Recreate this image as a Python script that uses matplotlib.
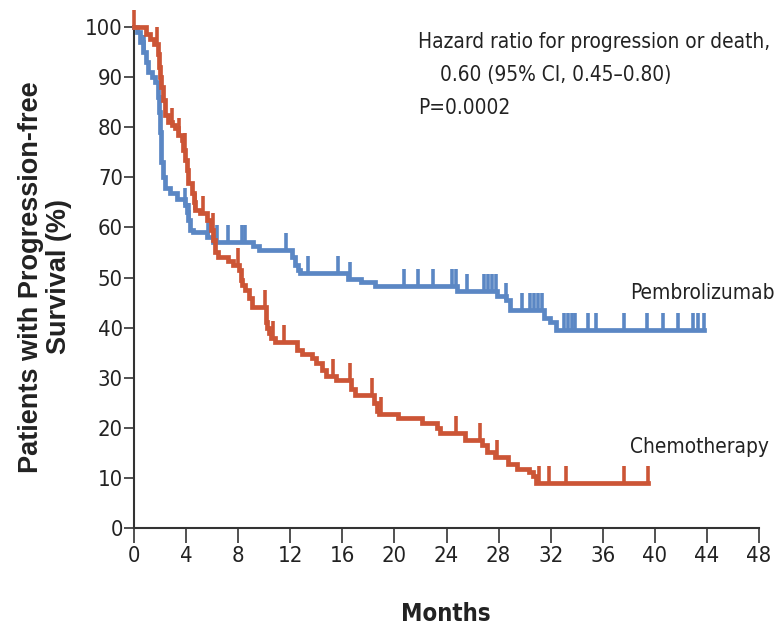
import numpy as np
import matplotlib
matplotlib.use("Agg")
import matplotlib.pyplot as plt
from matplotlib.path import Path
from matplotlib import font_manager as fm

# ---------------- data ----------------
pembro_t = [0, 0.2, 0.45, 0.7, 0.9, 1.1, 1.35, 1.6, 1.85, 1.95, 2.0, 2.05, 2.1, 2.2,
            2.4, 2.75, 3.3, 3.9, 4.05, 4.15, 4.3, 4.55, 5.6, 6.1, 9.15, 9.6, 12.1,
            12.35, 12.6, 12.75, 16.4, 17.4, 18.5, 24.8, 27.85, 28.6, 28.9, 31.45,
            31.95, 32.4]
pembro_s = [100, 99, 97, 95, 93, 91, 90, 89, 86, 83, 79, 76, 73, 70,
            67.8, 66.8, 65.7, 64.5, 63, 61.5, 59.5, 59, 58, 57, 56.3, 55.5, 54,
            52.5, 51.5, 50.8, 49.8, 49.2, 48.3, 47.3, 46.3, 45.5, 43.5, 42,
            41.2, 39.5]
pembro_end = 43.8
pembro_censor = [0.8, 3.95, 4.2, 5.7, 6.35, 7.2, 8.3, 8.5, 11.7, 13.4, 15.7, 16.6,
                 20.7, 21.8, 23.0, 24.45, 24.75, 25.55, 26.9, 27.2, 27.5, 27.8,
                 28.6, 29.8, 30.4, 30.7, 31.0, 31.3, 33.0, 33.3, 33.6, 33.9, 34.9,
                 35.5, 37.6, 39.4, 40.65, 41.8, 42.95, 43.35, 43.8]

chemo_t = [0, 0.95, 1.2, 1.5, 1.87, 1.95, 2.0, 2.1, 2.25, 2.4, 2.6, 2.9, 3.15, 3.4,
           3.65, 3.8, 3.95, 4.05, 4.17, 4.43, 4.6, 4.7, 5.07, 5.6, 5.9, 6.1, 6.2,
           6.45, 7.25, 7.6, 8.1, 8.2, 8.3, 8.5, 8.8, 9.05, 10.15, 10.25, 10.35,
           10.55, 10.8, 12.55, 12.9, 13.65, 14.0, 14.4, 14.75, 15.55, 16.7, 17.0,
           18.4, 18.65, 18.85, 20.3, 22.1, 23.25, 23.5, 25.4, 26.7, 27.1, 27.7,
           28.7, 29.4, 30.3, 30.65, 30.9]
chemo_s = [100, 98.7, 97.7, 96.7, 94.7, 92, 90, 88, 85.4, 82.4, 81.1, 80.4, 79.8, 78.4,
           77.4, 75.4, 73.5, 71.5, 68.8, 66.8, 65, 63.5, 62.9, 61.5, 59.5, 57.5, 55,
           54, 53.2, 52.5, 51.5, 49.5, 48.5, 47.5, 46, 44.2, 41.2, 40, 38.9,
           37.9, 37.2, 35.5, 34.8, 33.9, 32.9, 31.5, 30.3, 29.5, 27.8, 26.5,
           24.9, 23.4, 22.8, 21.9, 20.9, 19.9, 18.9, 17.6, 16.6, 15.2, 14.2,
           12.8, 11.8, 11.1, 10.4, 9.0]
chemo_end = 39.45
chemo_censor = [0.02, 1.75, 2.9, 3.45, 3.9, 4.7, 5.3, 6.05, 8.0, 10.05, 10.7, 11.5,
                15.3, 16.6, 18.25, 19.0, 24.75, 26.6, 27.85, 31.1, 31.9, 33.15,
                37.6, 39.45]

x_ticks = list(range(0, 49, 4))
y_ticks = list(range(0, 101, 10))

BLUE = "#5b87c4"
RED = "#cc5536"

# ---------------- pick a narrow font if one is installed ----------------
entries = [(f.name, str(f.stretch).lower()) for f in fm.fontManager.ttflist]
names = {n for n, _ in entries}
if "Liberation Sans Narrow" in names:
    NARROW = dict(family=["Liberation Sans Narrow", "DejaVu Sans"], stretch="normal")
    scale = 1.0
elif any(n == "DejaVu Sans" and st in ("condensed", "semi-condensed", "75", "87")
         for n, st in entries):
    NARROW = dict(family=["DejaVu Sans"], stretch="condensed")
    scale = 0.93
else:
    cond = sorted(n for n in names if ("Condensed" in n or "Narrow" in n))
    if cond:
        NARROW = dict(family=[cond[0], "DejaVu Sans"], stretch="normal")
        scale = 1.0
    else:
        NARROW = dict(family=["Liberation Sans", "DejaVu Sans"], stretch="normal")
        scale = 0.86

FS_TICK = 17 * scale
FS_TXT = 16.1 * scale

# ---------------- figure ----------------
fig = plt.figure(figsize=(7.84, 6.31), dpi=100)
ax = fig.add_axes([134 / 784, 103 / 631, 625 / 784, 501 / 631])

up_tick = Path([(0, 0), (0, 1)], [Path.MOVETO, Path.LINETO])


def draw_km(t, s, end, censor, color):
    t = np.asarray(t, float)
    s = np.asarray(s, float)
    tt = np.append(t, end)
    ss = np.append(s, s[-1])
    ax.step(tt, ss, where="post", color=color, lw=3.4, clip_on=False,
            solid_joinstyle="miter", zorder=3)
    c = np.asarray(censor, float)
    idx = np.searchsorted(t, c, side="right") - 1
    ax.plot(c, s[idx], linestyle="none", marker=up_tick, markersize=24,
            markeredgewidth=2.6, color=color, clip_on=False, zorder=3)


draw_km(pembro_t, pembro_s, pembro_end, pembro_censor, BLUE)
draw_km(chemo_t, chemo_s, chemo_end, chemo_censor, RED)

ax.set_xlim(0, 48)
ax.set_ylim(0, 100)
ax.set_xticks(x_ticks)
ax.set_yticks(y_ticks)
for sp in ["top", "right"]:
    ax.spines[sp].set_visible(False)
for sp in ["left", "bottom"]:
    ax.spines[sp].set_linewidth(1.5)
    ax.spines[sp].set_color("#333333")
ax.tick_params(axis="x", direction="out", length=11, width=1.2, color="#333333",
               pad=2)
ax.tick_params(axis="y", direction="out", length=7, width=1.2, color="#333333",
               pad=1)
for lab in ax.get_xticklabels() + ax.get_yticklabels():
    lab.set_family(NARROW["family"])
    lab.set_stretch(NARROW["stretch"])
    lab.set_fontsize(FS_TICK)
    lab.set_color("#222222")

txt = dict(fontsize=FS_TXT, va="center", ha="left", color="#222222", **NARROW)
ax.text(21.8, 97, "Hazard ratio for progression or death,", **txt)
ax.text(23.5, 90.4, "0.60 (95% CI, 0.45\u20130.80)", **txt)
ax.text(21.8, 83.8, "P=0.0002", **txt)
ax.text(38.1, 47, "Pembrolizumab", **txt)
ax.text(38.1, 16.2, "Chemotherapy", **txt)

fig.text(45 / 784, 1 - 277 / 631, "Patients with Progression-free\nSurvival (%)",
         rotation=90, ha="center", va="center", multialignment="center",
         fontsize=19.5, fontweight="bold", family=["Liberation Sans", "DejaVu Sans"],
         color="#222222", linespacing=1.1)
fig.text(446 / 784, 1 - 614 / 631, "Months", ha="center", va="center",
         fontsize=18.5 * scale, fontweight="bold", color="#222222", **NARROW)

fig.savefig("out.png", dpi=100)
